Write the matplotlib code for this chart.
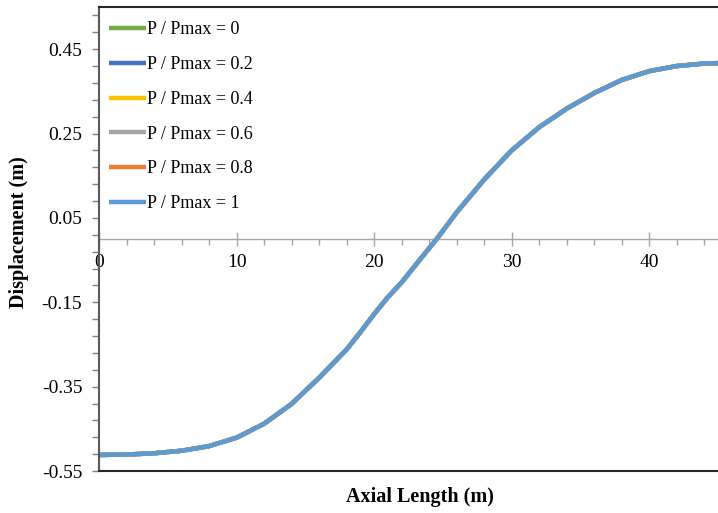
import matplotlib.pyplot as plt
from matplotlib.ticker import FixedLocator, MultipleLocator

plt.rcParams['font.family'] = ['Liberation Serif', 'DejaVu Serif']

# values (all six cases overlap)
axial_length = [0, 2, 4, 6, 8, 10, 12, 14, 16, 18, 19, 20, 21, 22, 23.4,
                24.6, 26, 28, 30, 32, 34, 36, 38, 40, 42, 44, 45]
displacement = [-0.512, -0.511, -0.508, -0.502, -0.491, -0.471, -0.438,
                -0.391, -0.329, -0.262, -0.221, -0.178, -0.138, -0.103,
                -0.046, 0.002, 0.063, 0.141, 0.210, 0.265, 0.309, 0.346,
                0.377, 0.398, 0.410, 0.416, 0.417]

ratios = ['0', '0.2', '0.4', '0.6', '0.8', '1']
colors = ['#70AD47', '#4472C4', '#FFC000', '#A5A5A5', '#ED7D31', '#5B9BD5']

y_ticks = [-0.55, -0.35, -0.15, 0.05, 0.25, 0.45]
y_tick_labels = ['-0.55', '-0.35', '-0.15', '0.05', '0.25', '0.45']
x_ticks = [0, 10, 20, 30, 40]

fig = plt.figure(figsize=(7.18, 5.13), dpi=100)
ax = fig.add_axes([99 / 718, 42 / 513, 1 - 99 / 718, 464 / 513])

for r, c in zip(ratios, colors):
    ax.plot(axial_length, displacement, color=c, lw=3.2,
            label='P / Pmax = ' + r, solid_capstyle='butt')

ax.set_xlim(0, 45)
ax.set_ylim(-0.55, 0.55)

# y axis
ax.yaxis.set_major_locator(FixedLocator(y_ticks))
ax.set_yticklabels(y_tick_labels)
ax.yaxis.set_minor_locator(MultipleLocator(0.04, offset=-0.55))
ax.tick_params(axis='y', which='both', direction='out', length=5, width=1,
               color='#808080', labelsize=14, pad=7)

# frame
ax.spines['right'].set_visible(False)
ax.spines['left'].set_color('#595959')
ax.spines['left'].set_linewidth(1.5)
ax.spines['top'].set_color('#262626')
ax.spines['top'].set_linewidth(1.5)
ax.spines['bottom'].set_color('#262626')
ax.spines['bottom'].set_linewidth(1.5)
ax.tick_params(axis='x', which='both', bottom=False, labelbottom=False)

# x axis crossing at y = 0
sec = ax.secondary_xaxis(0, transform=ax.transData)
sec.set_xticks(x_ticks)
sec.xaxis.set_minor_locator(MultipleLocator(2))
sec.spines['bottom'].set_color('#A6A6A6')
sec.spines['bottom'].set_linewidth(1)
sec.tick_params(which='major', direction='inout', length=10, width=1,
                color='#A6A6A6', labelsize=14, pad=6)
sec.tick_params(which='minor', direction='out', length=4, width=1,
                color='#A6A6A6')

fig.text(420 / 718, 1 - 497 / 513, 'Axial Length (m)',
         fontsize=14.5, fontweight='bold', ha='center', va='center')
fig.text(19 / 718, 1 - 232 / 513, 'Displacement (m)', fontsize=14.5,
         fontweight='bold', rotation=90, ha='center', va='center')

ax.legend(loc='upper left', bbox_to_anchor=(-0.0065, 1.0), frameon=False,
          fontsize=13, handlelength=2.0, handletextpad=0.1,
          labelspacing=0.98, borderaxespad=0.3, borderpad=0.5)

fig.savefig('out.png', dpi=100)
